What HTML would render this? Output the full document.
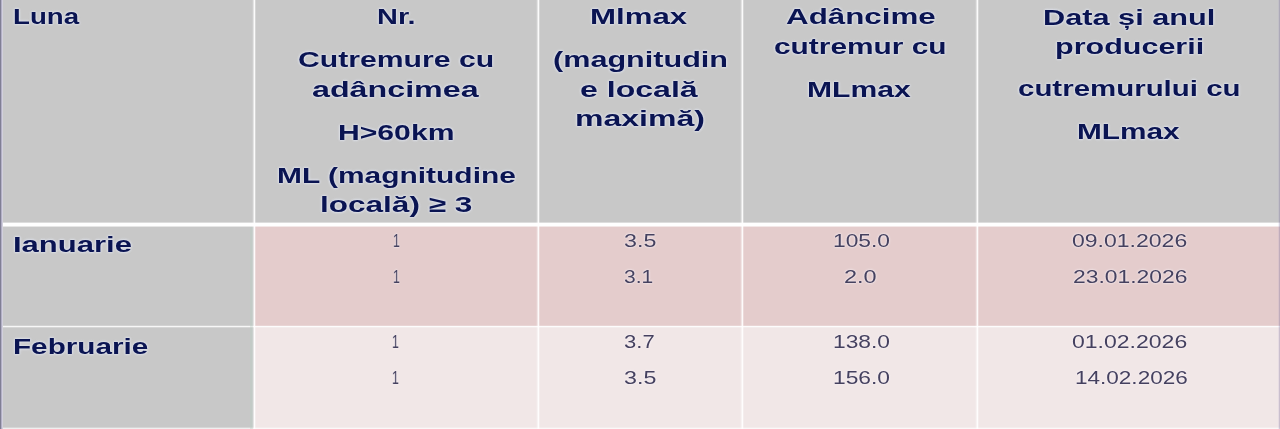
<!DOCTYPE html><html><head><meta charset="utf-8"><title>Tabel cutremure</title><style>
html,body{margin:0;padding:0;}
body{width:1280px;height:429px;overflow:hidden;background:#fff;position:relative;font-family:"Liberation Sans",sans-serif;}
.c{position:absolute;}
.t{position:absolute;white-space:nowrap;transform-origin:0 0;will-change:transform;filter:blur(0.45px);}
.h{text-shadow:0 0 1.5px #e2e6f2,0 0 2px #e2e6f2,0 0 3px rgba(226,230,242,0.6);font-weight:bold;font-size:22.5px;line-height:22.5px;color:#0a1452;}
.d{text-shadow:0 0 1.5px rgba(250,244,250,0.95),0 0 2.5px rgba(250,244,250,0.8);font-weight:normal;font-size:18.5px;line-height:18.5px;color:#45415f;}
</style></head><body>
<div class="c" style="left:0px;top:0px;width:1280px;height:225px;background:#c8c8c8"></div>
<div class="c" style="left:0px;top:225px;width:254px;height:101px;background:#c8c8c8"></div>
<div class="c" style="left:0px;top:326px;width:254px;height:103px;background:#c8c8c8"></div>
<div class="c" style="left:254px;top:225px;width:1026px;height:101px;background:#e4cccc"></div>
<div class="c" style="left:254px;top:326px;width:1026px;height:103px;background:#f1e7e7"></div>
<div class="c" style="left:0px;top:222px;width:1280px;height:1px;background:rgba(255,255,255,0.38)"></div>
<div class="c" style="left:0px;top:223px;width:1280px;height:1px;background:rgba(255,255,255,1)"></div>
<div class="c" style="left:0px;top:224px;width:1280px;height:1px;background:rgba(255,255,255,1)"></div>
<div class="c" style="left:0px;top:225px;width:1280px;height:1px;background:rgba(255,255,255,1)"></div>
<div class="c" style="left:0px;top:226px;width:1280px;height:1px;background:rgba(255,255,255,0.55)"></div>
<div class="c" style="left:0px;top:325px;width:1280px;height:1px;background:rgba(255,255,255,0.18)"></div>
<div class="c" style="left:0px;top:326px;width:1280px;height:1px;background:rgba(255,255,255,0.85)"></div>
<div class="c" style="left:0px;top:327px;width:1280px;height:1px;background:rgba(255,255,255,0.25)"></div>
<div class="c" style="left:0px;top:427px;width:1280px;height:1px;background:rgba(255,255,255,0.25)"></div>
<div class="c" style="left:0px;top:428px;width:1280px;height:1px;background:rgba(255,255,255,0.7)"></div>
<div class="c" style="left:250px;top:227px;width:3px;height:202px;background:rgba(184,206,196,0.35)"></div>
<div class="c" style="left:252px;top:0px;width:1px;height:429px;background:rgba(255,255,255,0.12)"></div>
<div class="c" style="left:253px;top:0px;width:1px;height:429px;background:rgba(255,255,255,0.5)"></div>
<div class="c" style="left:254px;top:0px;width:1px;height:429px;background:rgba(255,255,255,0.92)"></div>
<div class="c" style="left:255px;top:0px;width:1px;height:429px;background:rgba(255,255,255,0.25)"></div>
<div class="c" style="left:536px;top:0px;width:1px;height:429px;background:rgba(255,255,255,0.12)"></div>
<div class="c" style="left:537px;top:0px;width:1px;height:429px;background:rgba(255,255,255,0.5)"></div>
<div class="c" style="left:538px;top:0px;width:1px;height:429px;background:rgba(255,255,255,0.92)"></div>
<div class="c" style="left:539px;top:0px;width:1px;height:429px;background:rgba(255,255,255,0.25)"></div>
<div class="c" style="left:740px;top:0px;width:1px;height:429px;background:rgba(255,255,255,0.12)"></div>
<div class="c" style="left:741px;top:0px;width:1px;height:429px;background:rgba(255,255,255,0.5)"></div>
<div class="c" style="left:742px;top:0px;width:1px;height:429px;background:rgba(255,255,255,0.92)"></div>
<div class="c" style="left:743px;top:0px;width:1px;height:429px;background:rgba(255,255,255,0.25)"></div>
<div class="c" style="left:975px;top:0px;width:1px;height:429px;background:rgba(255,255,255,0.12)"></div>
<div class="c" style="left:976px;top:0px;width:1px;height:429px;background:rgba(255,255,255,0.5)"></div>
<div class="c" style="left:977px;top:0px;width:1px;height:429px;background:rgba(255,255,255,0.92)"></div>
<div class="c" style="left:978px;top:0px;width:1px;height:429px;background:rgba(255,255,255,0.25)"></div>
<div class="c" style="left:0px;top:0px;width:1px;height:429px;background:#807e94"></div>
<div class="c" style="left:1px;top:0px;width:1px;height:429px;background:#b2afc5"></div>
<div class="c" style="left:2px;top:0px;width:1px;height:429px;background:#d2d0dd"></div>
<div class="c" style="left:1279px;top:0px;width:1px;height:429px;background:rgba(95,85,140,0.27)"></div>
<div class="c" style="left:1278px;top:0px;width:1px;height:429px;background:rgba(150,130,200,0.10)"></div>
<div class="t h" style="left:13.26px;top:6.00px;transform:scaleX(1.2286)">Luna</div>
<div class="t h" style="left:377.37px;top:6.30px;transform:scaleX(1.2852)">Nr.</div>
<div class="t h" style="left:298.36px;top:49.40px;transform:scaleX(1.3405)">Cutremure cu</div>
<div class="t h" style="left:311.93px;top:78.60px;transform:scaleX(1.4324)">adâncimea</div>
<div class="t h" style="left:338.19px;top:121.90px;transform:scaleX(1.3393)">H>60km</div>
<div class="t h" style="left:276.80px;top:165.20px;transform:scaleX(1.3303)">ML (magnitudine</div>
<div class="t h" style="left:320.00px;top:194.00px;transform:scaleX(1.4014)">locală) ≥ 3</div>
<div class="t h" style="left:590.12px;top:6.40px;transform:scaleX(1.3875)">Mlmax</div>
<div class="t h" style="left:553.00px;top:49.00px;transform:scaleX(1.3595)">(magnitudin</div>
<div class="t h" style="left:580.37px;top:78.90px;transform:scaleX(1.4251)">e locală</div>
<div class="t h" style="left:574.77px;top:108.30px;transform:scaleX(1.4231)">maximă)</div>
<div class="t h" style="left:785.60px;top:6.30px;transform:scaleX(1.3929)">Adâncime</div>
<div class="t h" style="left:774.17px;top:35.50px;transform:scaleX(1.3271)">cutremur cu</div>
<div class="t h" style="left:807.49px;top:79.10px;transform:scaleX(1.3373)">MLmax</div>
<div class="t h" style="left:1043.35px;top:6.50px;transform:scaleX(1.3647)">Data și anul</div>
<div class="t h" style="left:1054.87px;top:36.10px;transform:scaleX(1.3561)">producerii</div>
<div class="t h" style="left:1018.19px;top:78.40px;transform:scaleX(1.3087)">cutremurului cu</div>
<div class="t h" style="left:1077.01px;top:121.40px;transform:scaleX(1.3241)">MLmax</div>
<div class="t h" style="left:12.63px;top:234.10px;transform:scaleX(1.3786)">Ianuarie</div>
<div class="t h" style="left:13.32px;top:335.90px;transform:scaleX(1.3187)">Februarie</div>
<div class="t d" style="left:392.71px;top:231.75px;transform:scaleX(0.6625)">1</div>
<div class="t d" style="left:392.71px;top:267.75px;transform:scaleX(0.6625)">1</div>
<div class="t d" style="left:623.76px;top:231.75px;transform:scaleX(1.2577)">3.5</div>
<div class="t d" style="left:623.85px;top:267.75px;transform:scaleX(1.1375)">3.1</div>
<div class="t d" style="left:832.55px;top:231.75px;transform:scaleX(1.2318)">105.0</div>
<div class="t d" style="left:843.73px;top:267.75px;transform:scaleX(1.2708)">2.0</div>
<div class="t d" style="left:1072.37px;top:231.75px;transform:scaleX(1.2440)">09.01.2026</div>
<div class="t d" style="left:1073.06px;top:267.75px;transform:scaleX(1.2364)">23.01.2026</div>
<div class="t d" style="left:392.01px;top:333.25px;transform:scaleX(0.6625)">1</div>
<div class="t d" style="left:392.01px;top:369.25px;transform:scaleX(0.6625)">1</div>
<div class="t d" style="left:623.81px;top:333.25px;transform:scaleX(1.1917)">3.7</div>
<div class="t d" style="left:623.76px;top:369.25px;transform:scaleX(1.2577)">3.5</div>
<div class="t d" style="left:832.55px;top:333.25px;transform:scaleX(1.2318)">138.0</div>
<div class="t d" style="left:832.55px;top:369.25px;transform:scaleX(1.2318)">156.0</div>
<div class="t d" style="left:1072.37px;top:333.25px;transform:scaleX(1.2440)">01.02.2026</div>
<div class="t d" style="left:1074.77px;top:369.25px;transform:scaleX(1.2177)">14.02.2026</div>
</body></html>
